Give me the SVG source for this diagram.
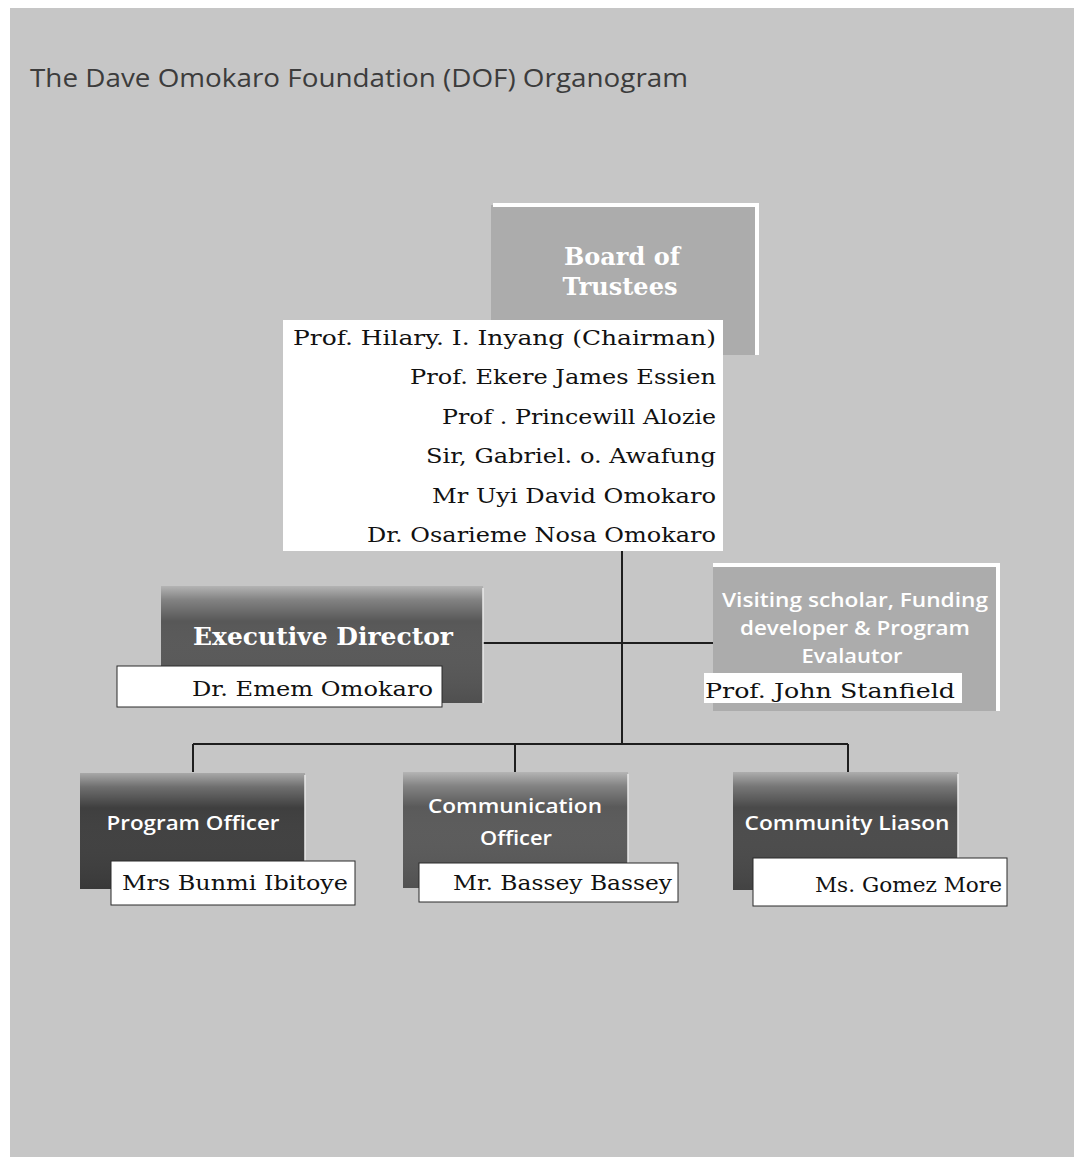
<svg xmlns="http://www.w3.org/2000/svg" width="1074" height="1157" viewBox="0 0 1074 1157">
<style>
.title{font-family:"Open Sans","Liberation Sans",sans-serif;font-size:26px;fill:#3c3c3c}
.sf{font-family:"DejaVu Serif","Liberation Serif",serif;font-size:21px;fill:#111}
.hb{font-family:"DejaVu Serif","Liberation Serif",serif;font-size:24px;font-weight:bold;fill:#fff;text-anchor:middle}
.hs{font-family:"Open Sans","Liberation Sans",sans-serif;font-size:19px;font-weight:600;fill:#fff;text-anchor:middle}
.namebox{fill:#fff;stroke:#2a2a2a;stroke-width:1}
.conn{stroke:#1e1e1e;stroke-width:2;fill:none}
.lightbox{fill:#acacac}
.edge{stroke:#fff;stroke-width:4;fill:none}
</style>
<defs>
<linearGradient id="gloss" x1="0" y1="0" x2="0" y2="1">
<stop offset="0" stop-color="#fff" stop-opacity="0.55"/>
<stop offset="0.12" stop-color="#fff" stop-opacity="0.25"/>
<stop offset="0.3" stop-color="#fff" stop-opacity="0"/>
<stop offset="1" stop-color="#000" stop-opacity="0.1"/>
</linearGradient>
</defs>
<rect x="0" y="0" width="1074" height="1157" fill="#ffffff"/>
<rect x="10" y="8" width="1064" height="1149" fill="#c6c6c6"/>
<text class="title" x="30" y="87" textLength="658" lengthAdjust="spacingAndGlyphs">The Dave Omokaro Foundation (DOF) Organogram</text>

<g id="connectors">
<line class="conn" x1="622" y1="551" x2="622" y2="744"/>
<line class="conn" x1="483" y1="643" x2="622" y2="643" stroke-width="1.5"/>
<line class="conn" x1="622" y1="643" x2="713" y2="643" stroke-width="2.5"/>
<line class="conn" x1="193" y1="744" x2="848" y2="744"/>
<line class="conn" x1="193" y1="744" x2="193" y2="772"/>
<line class="conn" x1="515" y1="744" x2="515" y2="772"/>
<line class="conn" x1="848" y1="744" x2="848" y2="772"/>
</g>

<g id="board">
<rect class="lightbox" x="491" y="205" width="266" height="150"/>
<polyline class="edge" points="493,205 757,205 757,355"/>
<text class="hb" x="622" y="265" font-size="26">Board of</text>
<text class="hb" x="620" y="295" font-size="26">Trustees</text>
<rect x="283" y="320" width="440" height="231" fill="#fff"/>
<g class="sf" text-anchor="end">
<text x="716" y="345" textLength="423" lengthAdjust="spacingAndGlyphs">Prof. Hilary. I. Inyang (Chairman)</text>
<text x="716" y="384" textLength="306" lengthAdjust="spacingAndGlyphs">Prof. Ekere James Essien</text>
<text x="716" y="424" textLength="274" lengthAdjust="spacingAndGlyphs">Prof . Princewill Alozie</text>
<text x="716" y="463" textLength="290" lengthAdjust="spacingAndGlyphs">Sir, Gabriel. o. Awafung</text>
<text x="716" y="503" textLength="284" lengthAdjust="spacingAndGlyphs">Mr Uyi David Omokaro</text>
<text x="716" y="542" textLength="349" lengthAdjust="spacingAndGlyphs">Dr. Osarieme Nosa Omokaro</text>
</g>
</g>

<g id="executive-director">
<rect x="161" y="586" width="322" height="117" fill="#585858"/>
<rect x="161" y="586" width="322" height="117" fill="url(#gloss)"/>
<line x1="483" y1="588" x2="483" y2="703" stroke="#e8e8e8" stroke-width="1.5"/>
<text class="hb" x="323" y="645" textLength="260" lengthAdjust="spacingAndGlyphs">Executive Director</text>
<rect class="namebox" x="117" y="666" width="325" height="41"/>
<text class="sf" x="192" y="696" textLength="241" lengthAdjust="spacingAndGlyphs">Dr. Emem Omokaro</text>
</g>

<g id="visiting-scholar">
<rect class="lightbox" x="713" y="565" width="285" height="146"/>
<polyline class="edge" points="713,565 998,565 998,711"/>
<text class="hs" x="855" y="607" textLength="266" lengthAdjust="spacingAndGlyphs">Visiting scholar, Funding</text>
<text class="hs" x="855" y="635" textLength="230" lengthAdjust="spacingAndGlyphs">developer &amp; Program</text>
<text class="hs" x="852" y="663" textLength="101" lengthAdjust="spacingAndGlyphs">Evalautor</text>
<rect x="704" y="673" width="258" height="30" fill="#fff"/>
<text class="sf" x="705" y="698" textLength="250" lengthAdjust="spacingAndGlyphs">Prof.  John Stanfield</text>
</g>

<g id="program-officer">
<rect x="80" y="773" width="225" height="116" fill="#3f3f3f"/>
<rect x="80" y="773" width="225" height="116" fill="url(#gloss)"/>
<line x1="305" y1="775" x2="305" y2="889" stroke="#e8e8e8" stroke-width="1.5"/>
<text class="hs" x="193" y="830" textLength="173" lengthAdjust="spacingAndGlyphs">Program Officer</text>
<rect class="namebox" x="111" y="861" width="244" height="44"/>
<text class="sf" x="122" y="890" textLength="226" lengthAdjust="spacingAndGlyphs">Mrs Bunmi Ibitoye</text>
</g>

<g id="communication-officer">
<rect x="403" y="772" width="225" height="116" fill="#5a5a5a"/>
<rect x="403" y="772" width="225" height="116" fill="url(#gloss)"/>
<line x1="628" y1="774" x2="628" y2="888" stroke="#e8e8e8" stroke-width="1.5"/>
<text class="hs" x="515" y="813" textLength="174" lengthAdjust="spacingAndGlyphs">Communication</text>
<text class="hs" x="516" y="845" textLength="72" lengthAdjust="spacingAndGlyphs">Officer</text>
<rect class="namebox" x="419" y="863" width="259" height="39"/>
<text class="sf" x="453" y="890" textLength="219" lengthAdjust="spacingAndGlyphs">Mr. Bassey Bassey</text>
</g>

<g id="community-liason">
<rect x="733" y="772" width="225" height="118" fill="#4a4a4a"/>
<rect x="733" y="772" width="225" height="118" fill="url(#gloss)"/>
<line x1="958" y1="774" x2="958" y2="890" stroke="#e8e8e8" stroke-width="1.5"/>
<text class="hs" x="847" y="830" textLength="205" lengthAdjust="spacingAndGlyphs">Community Liason</text>
<rect class="namebox" x="753" y="858" width="254" height="48"/>
<text class="sf" x="815" y="892" textLength="187" lengthAdjust="spacingAndGlyphs">Ms. Gomez More</text>
</g>
</svg>
